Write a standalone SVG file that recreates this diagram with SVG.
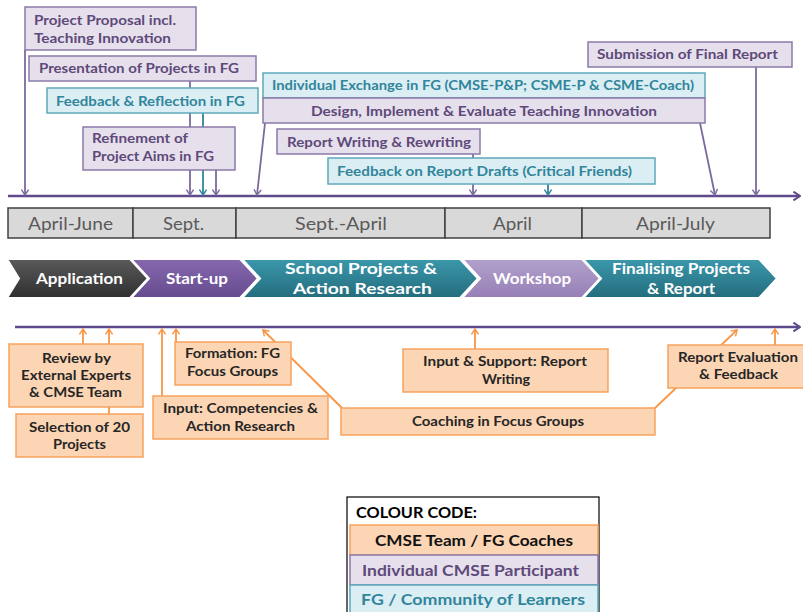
<svg xmlns="http://www.w3.org/2000/svg" width="803" height="612" viewBox="0 0 803 612">
<defs>
<style>
text{font-family:Lato,"Open Sans","Liberation Sans",sans-serif;font-weight:bold;}
.pb{fill:#e5e0ec;stroke:#8a7aa8;stroke-width:1.5;}
.tb{fill:#dbeef3;stroke:#5fa8bb;stroke-width:1.5;}
.ob{fill:#fcd5b4;stroke:#f7a25e;stroke-width:1.5;}
.pt{fill:#5f497a;font-size:14px;}
.tt{fill:#31859c;font-size:14px;}
.ot{fill:#262626;font-size:13.5px;}
.mc{fill:#d9d9d9;stroke:#404040;stroke-width:1.5;}
.mt{fill:#595959;font-size:18px;font-weight:normal;text-anchor:start;}
.ct{fill:#ffffff;font-size:15px;}
.lp{stroke:#7c6a9c;stroke-width:1.8;fill:none;}
.lt{stroke:#31859c;stroke-width:1.8;fill:none;}
.lo{stroke:#f79646;stroke-width:1.8;fill:none;}
.tl{stroke:#5f4b8b;stroke-width:2.5;fill:none;}
.chev{stroke:#ffffff;stroke-width:2;}
</style>
<marker id="ap" viewBox="0 0 10 10" refX="9" refY="5" markerWidth="9" markerHeight="9" markerUnits="userSpaceOnUse" orient="auto"><path d="M3,1 L9,5 L3,9" fill="none" stroke="#7c6a9c" stroke-width="1.6"/></marker>
<marker id="at" viewBox="0 0 10 10" refX="9" refY="5" markerWidth="9" markerHeight="9" markerUnits="userSpaceOnUse" orient="auto"><path d="M3,1 L9,5 L3,9" fill="none" stroke="#31859c" stroke-width="1.6"/></marker>
<marker id="ao" viewBox="0 0 10 10" refX="9" refY="5" markerWidth="9" markerHeight="9" markerUnits="userSpaceOnUse" orient="auto"><path d="M3,1 L9,5 L3,9" fill="none" stroke="#f79646" stroke-width="1.6"/></marker>
<marker id="al" viewBox="0 0 10 10" refX="9" refY="5" markerWidth="11" markerHeight="11" markerUnits="userSpaceOnUse" orient="auto"><path d="M3,1 L9,5 L3,9" fill="none" stroke="#5f4b8b" stroke-width="1.8"/></marker>
<linearGradient id="gApp" x1="0" y1="0" x2="0" y2="1"><stop offset="0" stop-color="#5a5a5a"/><stop offset="1" stop-color="#2f2f2f"/></linearGradient>
<linearGradient id="gSta" x1="0" y1="0" x2="0" y2="1"><stop offset="0" stop-color="#8668ad"/><stop offset="1" stop-color="#664b8f"/></linearGradient>
<linearGradient id="gTeal" x1="0" y1="0" x2="0" y2="1"><stop offset="0" stop-color="#3b98ab"/><stop offset="1" stop-color="#236c7d"/></linearGradient>
<linearGradient id="gWor" x1="0" y1="0" x2="0" y2="1"><stop offset="0" stop-color="#b2a1cc"/><stop offset="1" stop-color="#967fb6"/></linearGradient>
</defs>
<rect width="803" height="612" fill="#ffffff"/>

<g id="connectors">
<line class="tl" x1="8" y1="196" x2="800" y2="196" marker-end="url(#al)"/>
<line class="tl" x1="15" y1="327" x2="800" y2="327" marker-end="url(#al)"/>
<line class="lp" x1="25" y1="50" x2="25" y2="195" marker-end="url(#ap)"/>
<line class="lp" x1="190" y1="81" x2="190" y2="195" marker-end="url(#ap)"/>
<line class="lt" x1="203" y1="113" x2="203" y2="195" marker-end="url(#at)"/>
<line class="lp" x1="216" y1="170" x2="216" y2="195" marker-end="url(#ap)"/>
<line class="lp" x1="265" y1="123" x2="257" y2="195" marker-end="url(#ap)"/>
<line class="lp" x1="700" y1="123" x2="715" y2="195" marker-end="url(#ap)"/>
<line class="lp" x1="473" y1="154" x2="473" y2="195" marker-end="url(#ap)"/>
<line class="lt" x1="548" y1="184" x2="548" y2="195" marker-end="url(#at)"/>
<line class="lp" x1="756" y1="67" x2="756" y2="195" marker-end="url(#ap)"/>
<line class="lo" x1="83" y1="344" x2="83" y2="329" marker-end="url(#ao)"/>
<line class="lo" x1="109" y1="414" x2="109" y2="329" marker-end="url(#ao)"/>
<line class="lo" x1="162" y1="396" x2="162" y2="329" marker-end="url(#ao)"/>
<line class="lo" x1="176" y1="342" x2="176" y2="329" marker-end="url(#ao)"/>
<line class="lo" x1="342" y1="408" x2="263" y2="330" marker-end="url(#ao)"/>
<line class="lo" x1="475" y1="349" x2="475" y2="329" marker-end="url(#ao)"/>
<line class="lo" x1="655" y1="408" x2="737" y2="330" marker-end="url(#ao)"/>
<line class="lo" x1="775" y1="345" x2="775" y2="329" marker-end="url(#ao)"/>
</g>

<g id="n-proposal"><rect class="pb" x="25" y="7" width="171" height="43"/><text class="pt" x="34" y="25" textLength="142" lengthAdjust="spacingAndGlyphs">Project Proposal incl.</text><text class="pt" x="34" y="43" textLength="137" lengthAdjust="spacingAndGlyphs">Teaching Innovation</text></g>
<g id="n-presentation"><rect class="pb" x="29" y="56" width="227" height="25"/><text class="pt" x="39" y="73" textLength="200" lengthAdjust="spacingAndGlyphs">Presentation of Projects in FG</text></g>
<g id="n-feedback"><rect class="tb" x="47" y="88" width="211" height="25"/><text class="tt" x="56" y="106" textLength="189" lengthAdjust="spacingAndGlyphs">Feedback &amp; Reflection in FG</text></g>
<g id="n-refinement"><rect class="pb" x="83" y="127" width="152" height="43"/><text class="pt" x="92" y="143" textLength="96" lengthAdjust="spacingAndGlyphs">Refinement of</text><text class="pt" x="92" y="161" textLength="122" lengthAdjust="spacingAndGlyphs">Project Aims in FG</text></g>
<g id="n-exchange"><rect class="tb" x="263" y="73" width="442" height="25"/><text class="tt" x="272" y="90" textLength="422" lengthAdjust="spacingAndGlyphs">Individual Exchange in FG (CMSE-P&amp;P; CSME-P &amp; CSME-Coach)</text></g>
<g id="n-design"><rect class="pb" x="263" y="98" width="442" height="25"/><text class="pt" x="311" y="116" textLength="346" lengthAdjust="spacingAndGlyphs">Design, Implement &amp; Evaluate Teaching Innovation</text></g>
<g id="n-reportwriting"><rect class="pb" x="277" y="129" width="203" height="25"/><text class="pt" x="287" y="147" textLength="184" lengthAdjust="spacingAndGlyphs">Report Writing &amp; Rewriting</text></g>
<g id="n-drafts"><rect class="tb" x="328" y="158" width="327" height="26"/><text class="tt" x="337" y="176" textLength="295" lengthAdjust="spacingAndGlyphs">Feedback on Report Drafts (Critical Friends)</text></g>
<g id="n-submission"><rect class="pb" x="588" y="42" width="204" height="25"/><text class="pt" x="597" y="59" textLength="181" lengthAdjust="spacingAndGlyphs">Submission of Final Report</text></g>

<g id="months">
<rect class="mc" x="8" y="208" width="125" height="30"/>
<rect class="mc" x="133" y="208" width="103" height="30"/>
<rect class="mc" x="236" y="208" width="209" height="30"/>
<rect class="mc" x="445" y="208" width="137" height="30"/>
<rect class="mc" x="582" y="208" width="188" height="30"/>
<text class="mt" x="28" y="230" textLength="85" lengthAdjust="spacingAndGlyphs">April-June</text>
<text class="mt" x="163" y="230" textLength="41" lengthAdjust="spacingAndGlyphs">Sept.</text>
<text class="mt" x="295" y="230" textLength="92" lengthAdjust="spacingAndGlyphs">Sept.-April</text>
<text class="mt" x="493" y="230" textLength="39" lengthAdjust="spacingAndGlyphs">April</text>
<text class="mt" x="636" y="230" textLength="79" lengthAdjust="spacingAndGlyphs">April-July</text>
</g>

<g id="n-application"><path class="chev" fill="url(#gApp)" d="M7,259 L130,259 L148,278.5 L130,298 L7,298 L19,278.5 Z"/><text class="ct" x="36" y="284" textLength="87" lengthAdjust="spacingAndGlyphs">Application</text></g>
<g id="n-startup"><path class="chev" fill="url(#gSta)" d="M131,259 L240,259 L258,278.5 L240,298 L131,298 L149,278.5 Z"/><text class="ct" x="166" y="284" textLength="62" lengthAdjust="spacingAndGlyphs">Start-up</text></g>
<g id="n-school"><path class="chev" fill="url(#gTeal)" d="M242,259 L460,259 L478,278.5 L460,298 L242,298 L260,278.5 Z"/><text class="ct" x="285" y="274" font-size="16" style="font-size:16px" textLength="152" lengthAdjust="spacingAndGlyphs">School Projects &amp;</text><text class="ct" x="293" y="294" style="font-size:16px" textLength="139" lengthAdjust="spacingAndGlyphs">Action Research</text></g>
<g id="n-workshop"><path class="chev" fill="url(#gWor)" d="M462,259 L582,259 L600,278.5 L582,298 L462,298 L480,278.5 Z"/><text class="ct" x="493" y="284" textLength="78" lengthAdjust="spacingAndGlyphs">Workshop</text></g>
<g id="n-finalising"><path class="chev" fill="url(#gTeal)" d="M583,259 L759,259 L777,278.5 L759,298 L583,298 L601,278.5 Z"/><text class="ct" x="612" y="274" textLength="138" lengthAdjust="spacingAndGlyphs">Finalising Projects</text><text class="ct" x="647" y="294" textLength="68" lengthAdjust="spacingAndGlyphs">&amp; Report</text></g>

<g id="n-review"><rect class="ob" x="9" y="344" width="134" height="63"/><text class="ot" x="42" y="363" textLength="69" lengthAdjust="spacingAndGlyphs">Review by</text><text class="ot" x="21" y="380" textLength="110" lengthAdjust="spacingAndGlyphs">External Experts</text><text class="ot" x="29" y="397" textLength="93" lengthAdjust="spacingAndGlyphs">&amp; CMSE Team</text></g>
<g id="n-selection"><rect class="ob" x="16" y="414" width="127" height="43"/><text class="ot" x="29" y="432" textLength="101" lengthAdjust="spacingAndGlyphs">Selection of 20</text><text class="ot" x="53" y="449" textLength="53" lengthAdjust="spacingAndGlyphs">Projects</text></g>
<g id="n-formation"><rect class="ob" x="175" y="342" width="116" height="43"/><text class="ot" x="185" y="358" textLength="95" lengthAdjust="spacingAndGlyphs">Formation: FG</text><text class="ot" x="187" y="376" textLength="91" lengthAdjust="spacingAndGlyphs">Focus Groups</text></g>
<g id="n-input-comp"><rect class="ob" x="153" y="396" width="175" height="43"/><text class="ot" x="163" y="413" textLength="155" lengthAdjust="spacingAndGlyphs">Input: Competencies &amp;</text><text class="ot" x="186" y="431" textLength="109" lengthAdjust="spacingAndGlyphs">Action Research</text></g>
<g id="n-input-support"><rect class="ob" x="403" y="349" width="205" height="43"/><text class="ot" x="423" y="366" textLength="164" lengthAdjust="spacingAndGlyphs">Input &amp; Support: Report</text><text class="ot" x="482" y="384" textLength="48" lengthAdjust="spacingAndGlyphs">Writing</text></g>
<g id="n-coaching"><rect class="ob" x="341" y="408" width="314" height="27"/><text class="ot" x="412" y="426" textLength="172" lengthAdjust="spacingAndGlyphs">Coaching in Focus Groups</text></g>
<g id="n-evaluation"><rect class="ob" x="668" y="345" width="140" height="43"/><text class="ot" x="678" y="362" textLength="120" lengthAdjust="spacingAndGlyphs">Report Evaluation</text><text class="ot" x="699" y="379" textLength="79" lengthAdjust="spacingAndGlyphs">&amp; Feedback</text></g>

<g id="legend">
<rect x="347" y="497" width="252" height="120" fill="#ffffff" stroke="#000000" stroke-width="1.2"/>
<text x="356" y="518" fill="#000000" style="font-size:15px" textLength="121" lengthAdjust="spacingAndGlyphs">COLOUR CODE:</text>
<rect class="ob" x="350" y="525" width="248" height="30"/>
<text x="375" y="546" fill="#111111" style="font-size:16px" textLength="198" lengthAdjust="spacingAndGlyphs">CMSE Team / FG Coaches</text>
<rect class="pb" x="350" y="555" width="248" height="30"/>
<text x="362" y="576" fill="#5f497a" style="font-size:16px" textLength="217" lengthAdjust="spacingAndGlyphs">Individual CMSE Participant</text>
<rect class="tb" x="350" y="585" width="248" height="30"/>
<text x="361" y="605" fill="#31859c" style="font-size:16px" textLength="224" lengthAdjust="spacingAndGlyphs">FG / Community of Learners</text>
</g>
</svg>
